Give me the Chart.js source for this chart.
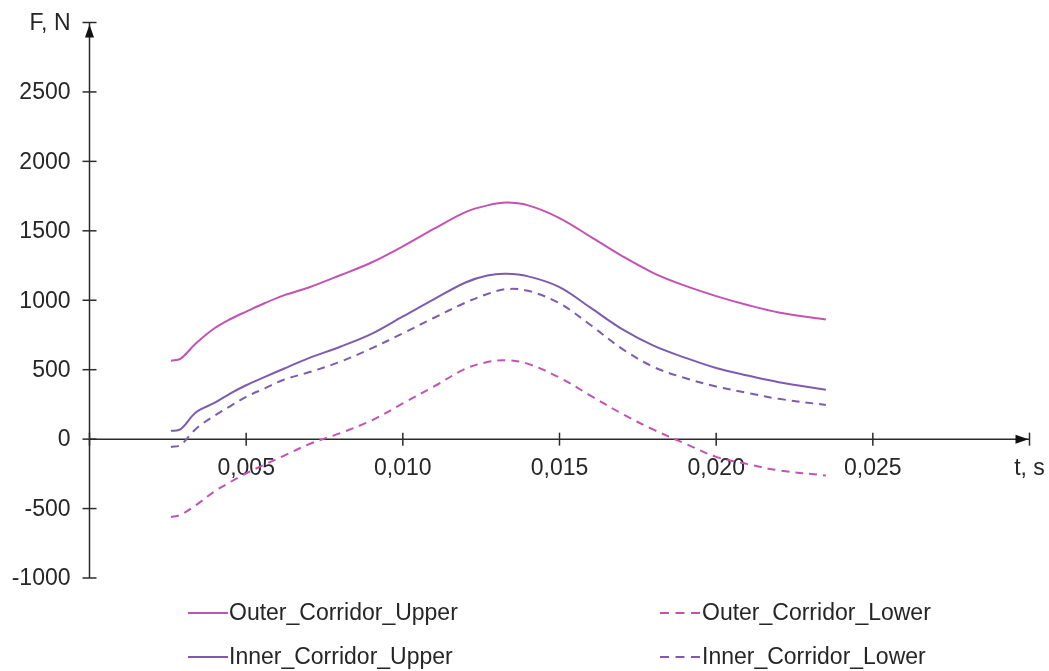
<!DOCTYPE html>
<html>
<head>
<meta charset="utf-8">
<script src="https://cdn.jsdelivr.net/npm/chart.js@4.4.0/dist/chart.umd.min.js"></script>
<style>
  html, body { margin: 0; padding: 0; background: #fff; }
</style>
</head>
<body>
<canvas id="forca" width="1049" height="671"></canvas>
<script>
// tempo (s) e forca (N)
var tempo = [0.0026, 0.0029, 0.0034, 0.0040, 0.0045, 0.0050, 0.0056, 0.0062, 0.0070, 0.0080,
             0.0090, 0.0100, 0.0110, 0.0120, 0.0127, 0.0133, 0.0140, 0.0150, 0.0160, 0.0170,
             0.0180, 0.0190, 0.0200, 0.0210, 0.0220, 0.0235];
var outerUpper = [565, 578, 690, 800, 865, 918, 980, 1035, 1092, 1180,
                  1272, 1388, 1515, 1635, 1683, 1703, 1683, 1592, 1456, 1318,
                  1196, 1105, 1030, 966, 912, 862];
var outerLower = [-561, -545, -475, -375, -308, -246, -182, -120, -37, 43,
                  134, 257, 380, 507, 555, 568, 542, 443, 312, 182,
                  68, -31, -128, -180, -225, -262];
var innerUpper = [60, 70, 193, 262, 330, 388, 448, 507, 583, 665,
                  758, 883, 1008, 1128, 1178, 1190, 1172, 1095, 945, 792,
                  673, 587, 512, 458, 410, 355];
var innerLower = [-56, -43, 75, 170, 238, 305, 366, 428, 481, 557,
                  653, 762, 874, 983, 1045, 1080, 1068, 978, 820, 650,
                  520, 440, 379, 333, 290, 246];

var nomes = ["Outer_Corridor_Upper", "Outer_Corridor_Lower", "Inner_Corridor_Upper", "Inner_Corridor_Lower"];
var yTicks = [-1000, -500, 0, 500, 1000, 1500, 2000, 2500, 3000];
var xTicks = [0, 0.005, 0.010, 0.015, 0.020, 0.025, 0.030];

var rosa = '#c452b4';
var roxo = '#7d5caf';
var fonte = '23px "Liberation Sans", Arial, sans-serif';

function pontos(valores) {
    return tempo.map(function(t, i) { return { x: t, y: valores[i] }; });
}

// eixos com setas, cruzando no zero
var eixos = {
    id: 'eixos',
    beforeDatasetsDraw: function(chart) {
        var ctx = chart.ctx;
        var xs = chart.scales.x, ys = chart.scales.y;
        var x0 = xs.getPixelForValue(0), y0 = ys.getPixelForValue(0);
        ctx.save();
        ctx.strokeStyle = '#2b2b2b';
        ctx.fillStyle = '#2b2b2b';
        ctx.lineWidth = 1.5;
        ctx.beginPath();
        ctx.moveTo(xs.left, y0); ctx.lineTo(xs.right, y0);
        ctx.moveTo(x0, ys.bottom); ctx.lineTo(x0, ys.top);
        ctx.stroke();

        ctx.font = fonte;
        ctx.fillStyle = '#262626';
        ctx.textAlign = 'right';
        ctx.textBaseline = 'middle';
        yTicks.forEach(function(v) {
            var py = ys.getPixelForValue(v);
            ctx.beginPath();
            ctx.moveTo(x0 - 7, py); ctx.lineTo(x0 + 7, py);
            ctx.stroke();
            ctx.fillText(v === 3000 ? 'F, N' : String(v), x0 - 19, py + 1);
        });
        ctx.textAlign = 'center';
        xTicks.forEach(function(v) {
            var px = xs.getPixelForValue(v);
            ctx.beginPath();
            ctx.moveTo(px, y0 - 6.5); ctx.lineTo(px, y0 + 6.5);
            ctx.stroke();
            if (v === 0) return;
            var txt = v >= 0.0299 ? 't, s' : v.toFixed(3).replace('.', ',');
            ctx.fillText(txt, px, y0 + 30);
        });

        // setas
        ctx.fillStyle = '#111';
        ctx.beginPath();
        ctx.moveTo(xs.right - 1, y0);
        ctx.lineTo(xs.right - 14, y0 - 4.5);
        ctx.lineTo(xs.right - 14, y0 + 4.5);
        ctx.closePath();
        ctx.fill();
        ctx.beginPath();
        ctx.moveTo(x0, ys.top + 2);
        ctx.lineTo(x0 - 4.5, ys.top + 15);
        ctx.lineTo(x0 + 4.5, ys.top + 15);
        ctx.closePath();
        ctx.fill();
        ctx.restore();
    }
};

// legenda em duas colunas
var legenda = {
    id: 'legenda',
    afterDraw: function(chart) {
        var ctx = chart.ctx;
        var colX = [188, 660];
        var linY = [613, 657];
        ctx.save();
        ctx.font = fonte;
        ctx.textBaseline = 'middle';
        ctx.textAlign = 'left';
        chart.data.datasets.forEach(function(ds, i) {
            var x = colX[i % 2], y = linY[Math.floor(i / 2)];
            ctx.strokeStyle = ds.borderColor;
            ctx.lineWidth = 2;
            ctx.setLineDash(ds.borderDash && ds.borderDash.length ? [9, 6.5] : []);
            ctx.beginPath();
            ctx.moveTo(x, y); ctx.lineTo(x + 40, y);
            ctx.stroke();
            ctx.setLineDash([]);
            ctx.fillStyle = '#262626';
            ctx.fillText(ds.label, x + (i % 2 ? 42 : 41), y + 1);
        });
        ctx.restore();
    }
};

var c = document.getElementById("forca");
var ctx = c.getContext("2d");
var datas = {
    type: 'line',
    data: {
        datasets: [{
            label: nomes[0],
            data: pontos(outerUpper),
            borderColor: rosa,
            borderWidth: 2
        }, {
            label: nomes[1],
            data: pontos(outerLower),
            borderColor: rosa,
            borderWidth: 2,
            borderDash: [8, 6]
        }, {
            label: nomes[2],
            data: pontos(innerUpper),
            borderColor: roxo,
            borderWidth: 2
        }, {
            label: nomes[3],
            data: pontos(innerLower),
            borderColor: roxo,
            borderWidth: 2,
            borderDash: [8, 6]
        }]
    },
    options: {
        responsive: false,
        animation: false,
        layout: { padding: { left: 89.5, right: 19.5, top: 22.5, bottom: 93 } },
        elements: {
            point: { radius: 0 },
            line: { tension: 0.35, fill: false }
        },
        scales: {
            x: { type: 'linear', min: 0, max: 0.03, display: false },
            y: { type: 'linear', min: -1000, max: 3000, display: false }
        },
        plugins: {
            legend: { display: false },
            tooltip: { enabled: false }
        }
    },
    plugins: [eixos, legenda]
};
var chart = new Chart(ctx, datas);
</script>
</body>
</html>
